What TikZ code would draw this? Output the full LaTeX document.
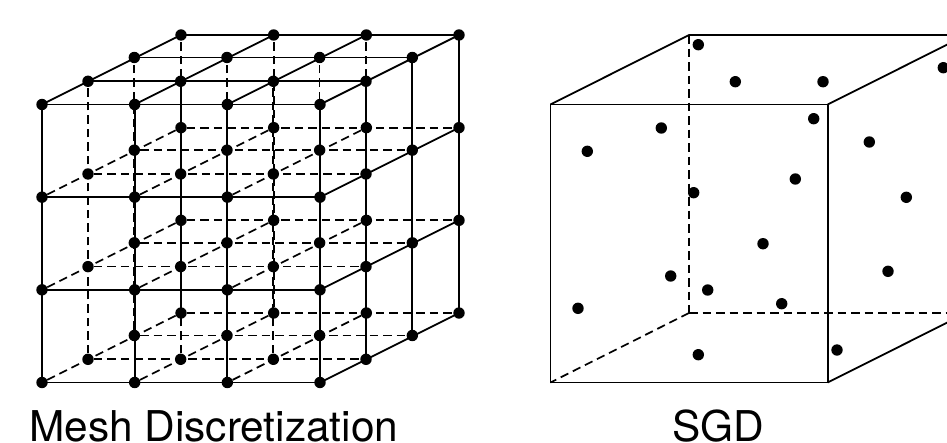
\documentclass[tikz,border=0pt]{standalone}
\usepackage{fontspec}
\setmainfont{TeX Gyre Heros}
\tikzset{
  dot/.style={circle,fill=black,draw=none,inner sep=0pt,minimum size=11.4pt},
  edge/.style={line width=1.8pt,black,line cap=butt},
  hidden/.style={line width=1.7pt,black,dash pattern=on 8.5pt off 5pt},
  caption/.style={inner sep=0pt,anchor=base,font=\fontsize{42.4pt}{46pt}\selectfont}
}
\begin{document}
\begin{tikzpicture}[x=1pt,y=-1pt]
\useasboundingbox (0,0) rectangle (947,442);
\clip (0,0) rectangle (947,442);
% mesh nodes: n-i-j-k, i = column, j = height, k = depth
\foreach \i in {0,1,2,3}{\foreach \j in {0,1,2,3}{\foreach \k in {0,1,2,3}{
  \pgfmathsetmacro{\dx}{{0,46,92.3,139}[\k]}
  \pgfmathsetmacro{\dy}{{0,23.2,47,69.5}[\k]}
  \node[dot] (n-\i-\j-\k) at ({42+92.67*\i+\dx},{382.5-92.67*\j-\dy}) {};
}}}
% columns
\foreach \i in {0,1,2,3}{\foreach \k in {0,1,2,3}{
  \pgfmathtruncatemacro{\solid}{(\k==0 || \i==3) ? 1 : 0}
  \ifnum\solid=1
    \draw[edge] (n-\i-0-\k.center) -- (n-\i-3-\k.center);
  \else
    \draw[hidden] (n-\i-0-\k) -- (n-\i-3-\k);
  \fi
}}
% rows
\foreach \j in {0,1,2,3}{\foreach \k in {0,1,2,3}{
  \pgfmathtruncatemacro{\solid}{(\k==0 || \j==3) ? 1 : 0}
  \ifnum\solid=1
    \draw[edge] (n-0-\j-\k.center) -- (n-3-\j-\k.center);
  \else
    \draw[hidden] (n-0-\j-\k) -- (n-3-\j-\k);
  \fi
}}
% depth lines
\foreach \i in {0,1,2,3}{\foreach \j in {0,1,2,3}{
  \pgfmathtruncatemacro{\solid}{(\i==3 || \j==3) ? 1 : 0}
  \ifnum\solid=1
    \draw[edge] (n-\i-\j-0.center) -- (n-\i-\j-3.center);
  \else
    \draw[hidden] (n-\i-\j-0) -- (n-\i-\j-3);
  \fi
}}
\node[caption,anchor=base west] (meshlabel) at (29,441) {Mesh Discretization};
% SGD cube
\coordinate (ftl) at (550.4,104.5);
\coordinate (ftr) at (827.7,104.5);
\coordinate (fbl) at (550.4,382.5);
\coordinate (fbr) at (827.7,382.5);
\coordinate (btl) at (689,35);
\coordinate (btr) at (966.3,35);
\coordinate (bbl) at (689,313);
\coordinate (bbr) at (966.3,313);
\draw[edge] (ftl) rectangle (fbr);
\draw[edge] (ftl) -- (btl) -- (btr) (ftr) -- (btr) (fbr) -- (bbr);
\draw[hidden] (btl) -- (bbl);
\draw[hidden] (bbl) -- (bbr);
\draw[hidden] (bbl) -- (fbl);
\foreach \p [count=\c] in {
 (698.3,44.7),(735.3,81.7),(823,81.7),(943.3,67.7),(813.7,118.7),
 (661.3,128),(587.3,151.3),(869.3,142),(795.3,179),(693.7,192.7),
 (906.3,197.3),(763,243.7),(888,271.3),(670.7,276),(707.7,290),
 (578,308.3),(781.7,303.7),(837,350),(698.3,354.7)}{
  \node[dot] (s\c) at \p {};
}
\node[caption] (sgdlabel) at (718.5,441) {SGD};
\end{tikzpicture}
\end{document}
